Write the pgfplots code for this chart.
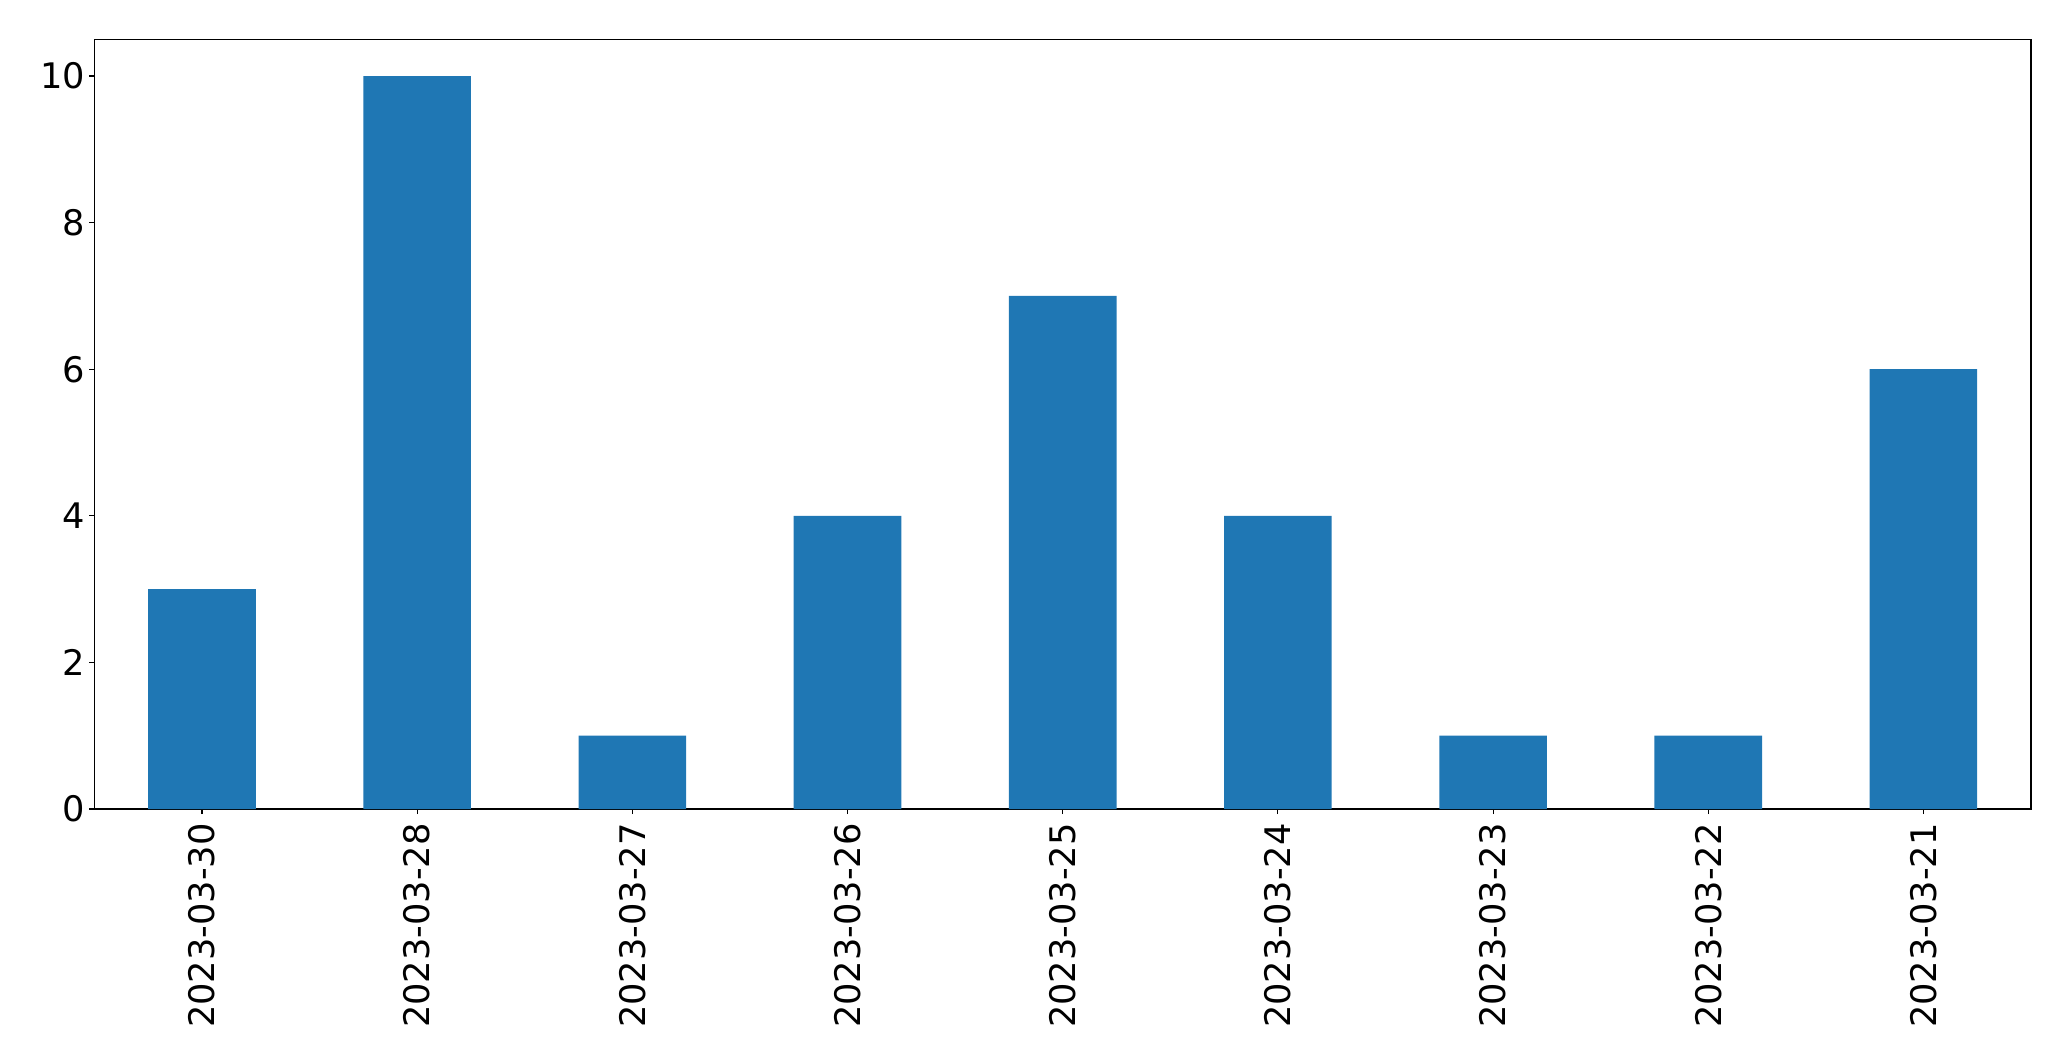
\documentclass[border=0pt]{standalone}
\usepackage{pgfplots}
\pgfplotsset{compat=1.18}
\usepackage{fontspec}
\setmainfont{DejaVu Sans}
\definecolor{mplblue}{HTML}{1F77B4}
\begin{document}
\begin{tikzpicture}
\begin{axis}[
  at={(0,0)}, anchor=south west,
  scale only axis,
  width=968.3pt, height=384.8pt,
  xmin=-0.5, xmax=8.5, ymin=0, ymax=10.5,
  xtick={0,...,8},
  xticklabels={2023-03-30,2023-03-28,2023-03-27,2023-03-26,2023-03-25,2023-03-24,2023-03-23,2023-03-22,2023-03-21},
  ytick={0,2,4,6,8,10},
  tick align=outside,
  major tick length=2.5pt,
  tick style={black, line width=0.55pt},
  axis line style={line width=0.55pt},
  xtick pos=bottom, ytick pos=left,
  /pgf/number format/assume math mode=true,
  ticklabel style={font=\fontsize{17.6}{21}\selectfont, inner sep=0pt},
  xticklabel style={rotate=90, anchor=east, xshift=-4.5pt},
  yticklabel style={anchor=east, xshift=-2pt},
]
\addplot[ybar, bar width=0.5, fill=mplblue, draw=none] coordinates {
(0,3) (1,10) (2,1) (3,4) (4,7) (5,4) (6,1) (7,1) (8,6)
};
\end{axis}
\pgfresetboundingbox
\path[use as bounding box] (-47.2pt,-126pt) rectangle (988.3pt,404.5pt);
\end{tikzpicture}
\end{document}
